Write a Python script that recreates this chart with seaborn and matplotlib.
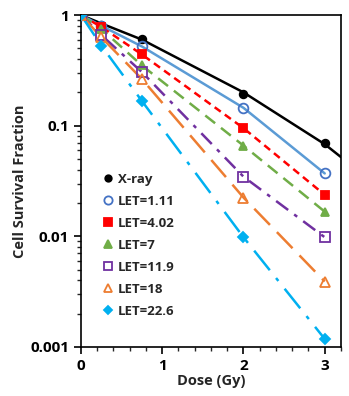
import matplotlib
matplotlib.use("Agg")
import matplotlib.pyplot as plt
import seaborn as sns
import pandas as pd
import numpy as np
from matplotlib.ticker import MultipleLocator, LogLocator, NullFormatter, FixedLocator, FixedFormatter

# ---- data ----
dose = [0, 0.25, 0.75, 2, 3]
series_names = ["X-ray", "LET=1.11", "LET=4.02", "LET=7", "LET=11.9", "LET=18", "LET=22.6"]
sf_xray = [1.0, 0.82, 0.61, 0.193, 0.070]
sf_let111 = [1.0, 0.80, 0.52, 0.145, 0.037]
sf_let402 = [1.0, 0.78, 0.44, 0.095, 0.0237]
sf_let7 = [1.0, 0.75, 0.35, 0.066, 0.0167]
sf_let119 = [1.0, 0.66, 0.305, 0.0346, 0.0098]
sf_let18 = [1.0, 0.63, 0.264, 0.0224, 0.0039]
sf_let226 = [1.0, 0.53, 0.167, 0.0098, 0.00118]
# X-ray fitted line continues past the last point
xray_line_dose = [0, 0.25, 0.75, 2, 3, 3.2]
xray_line_sf = [1.0, 0.84, 0.60, 0.20, 0.068, 0.052]

x_ticks = [0, 1, 2, 3]
y_ticks = [0.001, 0.01, 0.1, 1]
y_tick_labels = ["0.001", "0.01", "0.1", "1"]

# ---- style ----
sns.set_style("ticks")
plt.rcParams["font.family"] = ["Open Sans", "DejaVu Sans"]
plt.rcParams["font.weight"] = "bold"

colors = ["black", "#5B9BD5", "#FF0000", "#70AD47", "#7030A0", "#ED7D31", "#00B0F0"]
marker_colors = ["black", "#4472C4", "#FF0000", "#70AD47", "#7030A0", "#ED7D31", "#00B0F0"]
markers = ["o", "o", "s", "^", "s", "^", "D"]
filled = [True, False, True, True, False, False, True]
dashes = ["-", "-", (0, (3, 2)), (0, (5, 3)), (0, (6, 3, 1.5, 3)), (0, (9, 4)), (0, (10, 4, 1.5, 4))]
msizes = [5.5, 7, 6, 6, 7, 7, 5]

all_sf = [sf_xray, sf_let111, sf_let402, sf_let7, sf_let119, sf_let18, sf_let226]

fig = plt.figure(figsize=(3.49, 3.96), dpi=100)
ax = fig.add_axes([0.232, 0.124, 0.745, 0.838])

handles = []
for i, (name, sf) in enumerate(zip(series_names, all_sf)):
    df = pd.DataFrame({"dose": dose, "sf": sf})
    if i == 0:
        ldf = pd.DataFrame({"dose": xray_line_dose, "sf": xray_line_sf})
    else:
        ldf = df
    sns.lineplot(data=ldf, x="dose", y="sf", ax=ax, color=colors[i], lw=1.8,
                 legend=False)
    ax.lines[-1].set_linestyle(dashes[i])
    mfc = marker_colors[i] if filled[i] else "none"
    h, = ax.plot(df["dose"], df["sf"], linestyle="none", marker=markers[i],
                 markersize=msizes[i], markerfacecolor=mfc,
                 markeredgecolor=marker_colors[i], markeredgewidth=1.3,
                 label=name, zorder=5)
    handles.append(h)

ax.set_yscale("log")
ax.set_xlim(0, 3.2)
ax.set_ylim(0.001, 1)
ax.xaxis.set_major_locator(FixedLocator(x_ticks))
ax.xaxis.set_minor_locator(MultipleLocator(0.2))
ax.yaxis.set_major_locator(FixedLocator(y_ticks))
ax.yaxis.set_major_formatter(FixedFormatter(y_tick_labels))
ax.yaxis.set_minor_locator(LogLocator(base=10, subs=np.arange(2, 10)))
ax.yaxis.set_minor_formatter(NullFormatter())
ax.set_xticklabels([str(t) for t in x_ticks])

for s in ax.spines.values():
    s.set_visible(True)
    s.set_color("black")
    s.set_linewidth(1.2)

ax.tick_params(axis="both", which="major", direction="out", length=5, width=1.2,
               labelsize=11, colors="black")
ax.tick_params(axis="both", which="minor", direction="out", length=3, width=1.0)
for lab in ax.get_xticklabels() + ax.get_yticklabels():
    lab.set_fontweight("bold")

ax.set_xlabel("Dose (Gy)", fontsize=10.5, fontweight="bold", labelpad=1)
ax.set_ylabel("Cell Survival Fraction", fontsize=10.5, fontweight="bold", labelpad=2)

leg = ax.legend(handles=handles, labels=series_names, loc="lower left",
                bbox_to_anchor=(0.055, 0.06), frameon=False, fontsize=9.5,
                handlelength=0.6, handletextpad=0.4, labelspacing=0.68,
                borderaxespad=0.3, markerscale=0.85)
for t in leg.get_texts():
    t.set_fontweight("bold")

fig.savefig("out.png", dpi=100)
